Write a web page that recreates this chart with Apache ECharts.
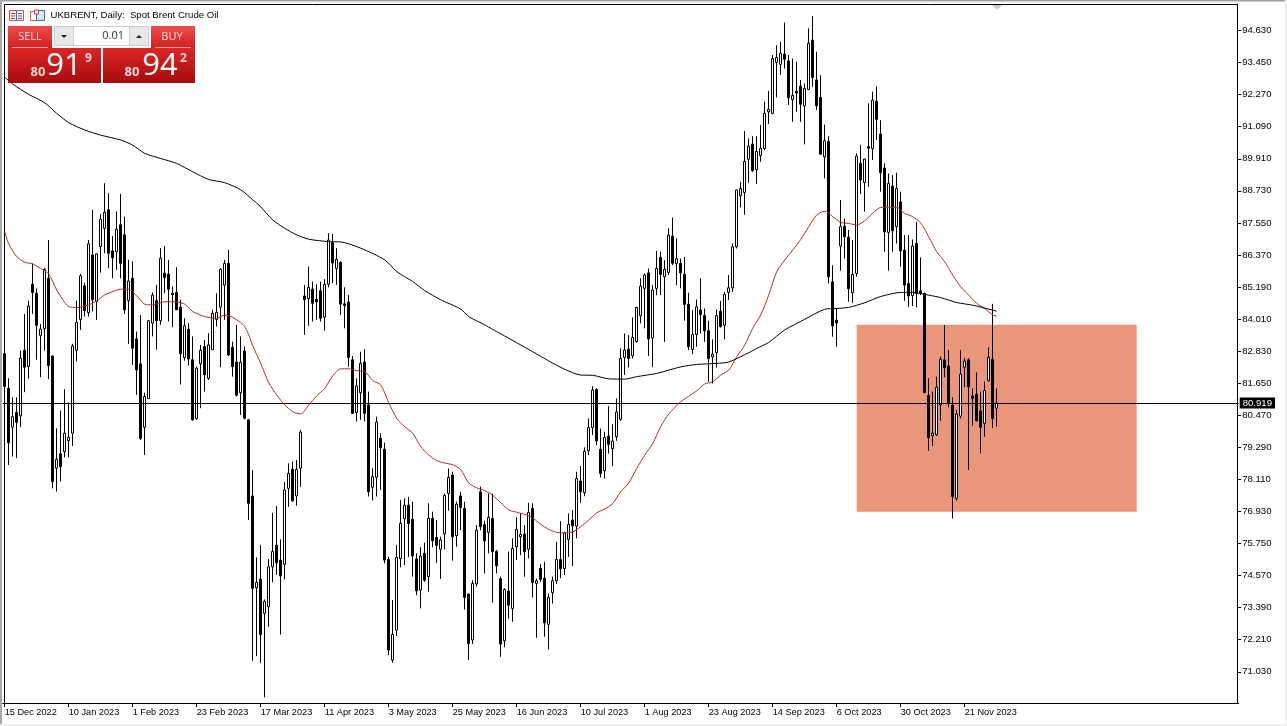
<!DOCTYPE html>
<html><head><meta charset="utf-8">
<style>html,body{margin:0;padding:0;background:#fff}#c{width:1287px;height:726px}</style>
<script src="https://cdn.jsdelivr.net/npm/echarts@6/dist/echarts.min.js"></script>
</head><body><div id="c"></div>
<script>
const xTickLabels=['15 Dec 2022','10 Jan 2023','1 Feb 2023','23 Feb 2023','17 Mar 2023','11 Apr 2023','3 May 2023','25 May 2023','16 Jun 2023','10 Jul 2023','1 Aug 2023','23 Aug 2023','14 Sep 2023','6 Oct 2023','30 Oct 2023','21 Nov 2023'];
const yTicks=[71.03,72.21,73.39,74.57,75.75,76.93,78.11,79.29,80.47,81.65,82.83,84.01,85.19,86.37,87.55,88.73,89.91,91.09,92.27,93.45,94.63];
const bidPrice=80.919;
const open=[82.73,81.46,80.03,80.57,80.45,82.86,82.26,85.29,84.96,83.40,
83.66,85.51,82.65,78.52,79.05,79.13,79.54,79.81,82.86,84.00,
85.23,84.25,86.37,84.65,86.68,87.35,88.03,86.52,86.49,87.48,
87.11,84.69,85.51,83.28,82.36,80.03,81.08,83.86,84.69,83.95,
85.70,85.67,84.96,84.99,84.45,82.59,83.64,82.51,80.35,82.37,
83.00,81.83,82.88,84.00,84.45,85.26,86.06,82.97,82.43,81.30,
82.83,80.30,77.50,74.12,74.44,73.18,73.42,74.89,75.69,75.14,
74.98,77.78,78.48,77.50,78.52,84.86,84.76,85.11,84.74,85.05,
84.08,85.29,86.83,85.87,86.10,84.57,84.64,82.51,80.57,81.30,
82.43,80.85,77.82,78.19,79.62,79.22,75.16,71.46,72.56,75.19,
76.66,77.16,76.64,75.18,74.04,75.39,74.53,76.67,75.97,75.54,
76.10,77.59,78.27,76.04,77.50,77.04,73.89,72.20,74.26,77.65,
76.45,76.16,76.67,75.46,74.45,72.17,74.00,73.36,75.63,76.00,
76.10,75.54,77.04,74.28,74.83,74.47,72.77,73.94,74.38,75.16,
74.83,75.90,76.61,76.39,78.05,77.62,79.16,80.02,81.42,79.22,
78.43,79.70,79.24,79.68,80.32,82.60,82.90,82.66,83.18,84.13,
85.14,85.71,83.32,85.14,86.28,85.57,85.73,87.06,86.06,86.06,
85.66,84.56,82.89,83.44,84.34,84.14,83.58,82.62,82.77,84.30,
83.78,84.99,85.16,86.67,88.55,88.67,89.89,90.45,89.51,90.03,
90.28,91.64,91.58,93.46,93.38,93.76,93.51,92.09,92.39,92.58,
91.86,92.46,94.28,92.81,92.17,89.98,90.55,85.38,83.97,86.70,
87.43,87.02,84.98,85.69,89.74,89.03,90.35,90.28,92.03,90.82,
89.57,87.20,88.91,87.41,88.32,86.55,85.32,84.87,86.79,85.05,
84.96,81.20,79.72,79.75,80.85,82.51,82.28,80.84,77.41,80.44,
82.24,82.51,81.18,81.24,80.63,80.17,81.74,82.53,80.73];
const close=[81.53,79.46,80.42,80.21,82.57,82.24,84.49,84.99,83.78,83.64,
85.84,82.30,78.03,78.85,78.58,79.81,79.66,83.02,83.89,85.60,
84.32,86.78,84.72,86.41,87.68,87.94,86.43,86.27,87.32,86.06,
84.35,85.41,82.94,82.14,79.62,81.16,83.95,84.89,83.95,86.25,
85.54,85.11,84.91,84.35,82.73,83.76,82.54,80.30,82.20,82.86,
81.96,83.06,84.22,84.26,85.84,86.06,82.69,82.26,81.21,82.42,
80.36,77.23,74.10,74.32,72.40,73.62,74.89,75.46,75.04,74.56,
77.72,78.33,77.32,78.48,79.85,84.72,85.18,84.59,84.65,84.04,
85.29,86.92,86.07,86.21,84.56,84.51,82.59,80.54,81.55,82.38,
80.54,77.66,78.21,80.22,79.28,75.14,71.83,72.40,75.24,76.49,
77.16,76.49,75.29,74.01,75.29,74.40,76.67,75.85,75.68,75.88,
77.52,78.18,76.00,77.20,77.08,73.77,72.07,74.28,76.24,76.37,
75.85,76.71,75.45,74.93,72.05,74.06,73.48,75.57,76.27,76.08,
75.45,76.89,74.31,74.38,74.43,72.83,73.77,74.38,75.16,74.82,
76.14,76.45,76.40,78.14,77.65,79.15,80.02,81.40,79.53,78.33,
79.65,79.40,79.52,80.59,82.56,82.87,82.56,83.33,84.44,85.22,
85.63,83.28,85.08,85.87,85.65,85.84,87.10,86.06,86.24,85.71,
84.55,82.99,83.44,84.46,84.17,83.58,82.56,82.72,84.14,83.73,
84.92,85.16,86.67,88.76,88.82,89.81,90.38,89.47,90.18,90.29,
91.58,91.73,93.60,93.64,93.79,93.57,92.16,92.24,92.33,91.92,
92.50,94.16,92.90,91.86,90.08,90.57,85.57,83.76,83.87,87.41,
87.04,85.13,85.65,90.01,89.13,89.90,90.30,92.07,91.36,89.40,
87.22,89.00,87.26,88.82,86.52,85.26,84.86,86.70,84.95,84.95,
81.30,79.65,79.81,81.50,82.53,82.22,80.93,77.48,80.51,81.98,
82.46,81.52,81.08,80.27,80.03,81.38,82.60,80.35,80.92];
const low=[81.53,78.64,78.95,78.89,80.03,81.32,81.82,84.20,82.51,81.87,
82.85,81.80,77.78,77.66,78.03,78.92,78.92,79.34,82.45,83.61,
84.10,84.10,84.29,83.98,85.72,86.43,85.88,85.51,85.82,85.51,
84.20,83.10,82.32,81.22,79.56,79.01,81.08,83.37,82.88,83.80,
84.96,83.92,83.71,84.35,81.60,82.48,82.30,80.27,80.30,80.73,
81.34,81.77,82.88,83.73,82.24,83.98,82.65,81.89,81.16,80.48,
80.32,76.61,71.43,71.61,71.36,70.09,72.69,74.32,74.59,72.40,
74.43,77.10,77.29,77.14,77.84,83.43,83.76,83.92,83.98,83.92,
83.59,85.18,85.33,85.27,84.16,83.67,82.26,80.54,80.24,80.30,
80.24,77.48,77.33,77.48,77.72,75.02,71.64,71.36,72.34,74.87,
74.96,75.26,74.53,73.85,73.36,74.34,73.98,75.61,75.04,74.45,
75.53,76.96,75.12,75.63,76.24,73.32,71.46,72.05,74.16,76.24,
74.65,75.39,73.57,74.65,71.58,71.93,72.99,72.87,75.14,75.32,
74.53,75.20,73.77,72.28,74.34,72.32,71.85,73.54,74.26,74.47,
74.59,75.26,74.92,75.94,77.25,77.49,79.00,79.74,79.37,78.18,
78.14,79.06,78.60,79.53,80.27,81.95,82.23,82.56,83.14,83.85,
83.67,82.65,82.25,84.89,84.89,83.17,85.63,86.00,85.26,85.14,
83.95,82.87,82.72,82.99,83.48,83.17,81.70,81.64,82.23,83.70,
83.26,84.71,85.01,86.61,88.12,87.85,89.03,89.43,88.98,89.80,
90.23,91.19,91.55,92.17,92.99,93.23,91.89,91.27,91.64,91.27,
90.44,92.46,92.56,91.70,90.05,89.19,85.32,83.36,82.99,85.79,
86.24,84.65,84.61,85.57,88.61,87.96,88.88,89.86,90.60,88.70,
86.49,85.79,86.49,86.79,85.94,84.68,84.46,84.49,84.44,84.89,
81.30,79.17,79.34,79.71,80.27,81.87,80.76,76.67,77.33,80.36,
81.50,78.46,80.09,80.24,79.07,79.68,81.71,80.00,80.05];
const high=[82.75,81.83,81.13,81.13,82.85,84.20,84.69,86.06,85.14,83.83,
85.88,86.92,82.67,79.99,80.64,81.43,80.94,83.10,84.69,85.67,
85.35,86.92,88.03,86.43,87.88,89.01,88.64,87.07,87.97,88.62,
87.78,86.19,86.13,83.55,84.16,81.30,83.98,84.99,85.27,86.62,
86.70,86.19,85.21,85.92,84.72,84.04,83.86,83.37,82.26,83.06,
83.24,83.49,84.35,84.96,85.88,86.19,86.56,83.18,83.80,83.37,
83.00,80.33,78.45,75.24,75.69,73.69,75.18,76.88,77.13,75.90,
78.02,78.70,78.76,78.82,79.93,85.27,85.94,85.39,85.29,85.39,
85.48,87.17,87.14,86.62,86.13,85.18,84.90,82.65,81.83,82.81,
82.90,81.34,78.52,80.42,79.81,79.46,75.26,73.67,75.69,77.35,
77.41,77.47,77.29,75.39,75.61,75.78,77.23,76.92,76.61,76.00,
77.59,78.51,78.39,77.29,77.65,77.29,73.91,74.40,76.43,77.84,
76.59,77.59,77.59,75.51,74.53,74.10,75.45,75.94,76.71,76.86,
76.43,77.25,77.23,74.46,74.99,75.08,73.91,74.53,75.81,76.57,
76.18,76.86,76.98,78.39,78.60,79.29,80.35,81.54,81.46,79.98,
79.86,80.81,80.14,81.09,82.93,83.48,83.42,84.07,84.46,85.51,
85.69,85.87,85.26,86.52,86.49,86.18,87.35,87.75,86.98,86.24,
86.30,84.98,84.34,84.73,85.51,84.40,83.95,83.26,84.36,84.68,
85.01,85.63,86.79,88.78,89.06,90.93,90.66,90.74,90.74,91.15,
92.01,92.41,93.73,94.09,94.22,94.92,93.73,93.60,93.48,92.81,
92.68,94.71,95.16,93.85,92.99,91.17,90.74,85.99,84.40,88.39,
87.71,87.29,86.92,90.11,90.41,89.92,91.95,92.38,92.58,91.33,
89.74,89.37,89.31,89.40,88.70,87.10,87.10,86.94,87.59,86.28,
84.98,81.83,81.34,81.89,82.63,83.79,82.87,81.13,80.67,82.87,
82.57,82.57,81.46,82.05,81.34,81.71,82.97,84.57,81.46];
const redMA=[[0,87.23],[1,86.78],[3,86.31],[5,86.10],[7,86.04],[9,85.87],[11,85.67],[13,85.08],[15,84.62],[16,84.47],[18,84.43],[21,84.53],[23,84.68],[25,84.90],[27,85.02],[29,85.11],[31,85.11],[33,84.86],[35,84.56],[37,84.53],[40,84.65],[43,84.64],[45,84.56],[47,84.29],[50,84.10],[53,84.04],[55,84.16],[57,84.07],[59,83.88],[60,83.73],[61,83.43],[62,83.03],[64,82.38],[66,81.67],[68,81.22],[70,80.85],[72,80.60],[74,80.52],[76,80.85],[78,81.18],[80,81.46],[82,81.92],[84,82.18],[86,82.18],[88,82.11],[90,82.08],[92,81.75],[94,81.59],[96,80.94],[98,80.36],[100,80.05],[102,79.81],[104,79.32],[106,79.01],[108,78.80],[110,78.71],[112,78.65],[114,78.47],[116,77.98],[118,77.80],[120,77.70],[122,77.53],[124,77.25],[126,76.99],[128,76.90],[130,76.82],[132,76.69],[134,76.46],[136,76.27],[138,76.16],[140,76.14],[142,76.18],[144,76.37],[146,76.61],[148,76.88],[150,77.02],[152,77.22],[154,77.65],[156,77.98],[158,78.51],[160,79.00],[162,79.43],[164,80.05],[166,80.51],[169,80.97],[171,81.17],[173,81.37],[175,81.62],[177,81.70],[179,81.95],[181,82.13],[183,82.62],[185,83.05],[187,83.67],[189,84.16],[191,84.89],[193,85.75],[195,86.18],[197,86.55],[199,86.94],[201,87.41],[203,87.84],[205,87.98],[207,87.78],[209,87.57],[211,87.53],[213,87.47],[215,87.63],[217,87.90],[219,88.12],[221,88.12],[223,88.12],[225,87.90],[227,87.78],[229,87.55],[231,87.04],[233,86.49],[235,86.12],[237,85.63],[239,85.20],[241,84.89],[243,84.59],[245,84.40],[247,84.16],[248,84.12]];
const blackMA=[[0,92.92],[2,92.66],[6,92.28],[10,91.97],[13,91.58],[16,91.24],[20,90.97],[24,90.78],[29,90.60],[32,90.41],[35,90.11],[39,89.92],[43,89.74],[47,89.43],[51,89.15],[55,89.03],[59,88.77],[62,88.40],[64,88.14],[67,87.66],[70,87.35],[73,87.11],[76,86.95],[81,86.86],[84,86.85],[89,86.62],[95,86.19],[98,85.76],[102,85.39],[105,85.06],[109,84.72],[114,84.38],[116,84.10],[120,83.80],[122,83.63],[124,83.47],[128,83.14],[132,82.81],[136,82.47],[140,82.16],[144,81.95],[147,81.94],[151,81.81],[155,81.80],[158,81.89],[163,82.01],[169,82.25],[173,82.34],[178,82.38],[181,82.43],[186,82.77],[188,82.93],[191,83.15],[195,83.61],[200,84.00],[205,84.37],[208,84.40],[211,84.44],[215,84.61],[219,84.84],[224,84.99],[227,84.99],[231,84.89],[234,84.80],[238,84.62],[242,84.52],[247,84.34],[248,84.30]];
const zoneCorners=[[213,83.80],[283,76.92]];

const SLOTS=309, TICK_EVERY=16;
const categories=Array.from({length:SLOTS},(_,i)=>(i%TICK_EVERY===0&&xTickLabels[i/TICK_EVERY])||'');
const ohlc=open.map((o,i)=>[o,close[i],low[i],high[i]]);
const UIF='"Open Sans","Noto Sans",sans-serif';
const AXF='"Liberation Sans",Arial,sans-serif';
const grad=(a,b)=>({type:'linear',x:0,y:0,x2:0,y2:1,colorStops:[{offset:0,color:a},{offset:1,color:b}]});
const Z=100;
const R=(x,y,w,h,fill,stroke,lw)=>({type:'rect',z:Z,shape:{x,y,width:w,height:h},style:{fill:fill||'none',stroke:stroke||'none',lineWidth:lw||1},silent:true});
const T=(x,y,text,fill,font,align)=>({type:'text',z:Z+1,style:{x,y,text,fill,font,textAlign:align||'left',textVerticalAlign:'middle'},silent:true});
const L=(x1,y1,x2,y2,c,lw)=>({type:'line',z:Z+1,shape:{x1,y1,x2,y2},style:{stroke:c,lineWidth:lw||1},silent:true});
const Tri=(pts,c)=>({type:'polygon',z:Z+1,shape:{points:pts},style:{fill:c},silent:true});

const graphics=[
 {type:'rect',z:-1,shape:{x:4.5,y:4.5,width:1233,height:699},style:{fill:'#fff',stroke:'#000',lineWidth:1},silent:true},
 R(0,0,1287,1.5,'#a0a0a0'),R(0,0,2,726,'#a8a8a8'),R(1285,0,2,726,'#f0f0f0'),R(0,724,1287,2,'#f0f0f0'),
 Tri([[992,5],[1002,5],[997,10]],'#c8c8c8'),
 R(9.5,10.5,14,10,'#fbeeee','#d9534f'),L(16.5,11,16.5,20,'#2f6fb0'),L(11,13.5,15,13.5,'#c0392b'),L(11,16,15,16,'#c0392b'),L(11,18.5,15,18.5,'#c0392b'),L(18,13.5,22,13.5,'#2f6fb0'),L(18,16,22,16,'#2f6fb0'),L(18,18.5,22,18.5,'#2f6fb0'),
 R(30.5,11.5,6,9,'#fff','#d9534f'),R(36.5,10.5,8,10,'#dbe9f6','#2f6fb0'),R(34.5,10,4,4,'#fff','#c0392b'),
 T(50.5,15.5,'UKBRENT, Daily:  Spot Brent Crude Oil','#000','9.6px '+AXF),
 R(8,26,44,22,grad('#ee4b4b','#d32020')),L(12,47.5,48,47.5,'#f3a0a0'),T(30,36.5,'SELL','#fbdcdc','11px '+UIF,'center'),
 R(54.5,26.5,19,19,'#e8e8e8','#cfcfcf'),R(73.5,26.5,56,19,'#fff','#cfcfcf'),R(129.5,26.5,19,19,'#e8e8e8','#cfcfcf'),
 Tri([[61,35],[67,35],[64,38]],'#222'),Tri([[136,38],[142,38],[139,35]],'#222'),
 T(124,36,'0.01','#333','11px '+UIF,'right'),
 R(151,26,44,22,grad('#ee4b4b','#d32020')),L(155,47.5,191,47.5,'#f3a0a0'),T(172,36.5,'BUY','#fbdcdc','11px '+UIF,'center'),
 R(8,48,93,35,grad('#dc2525','#a80c0c')),R(103,48,92,35,grad('#dc2525','#a80c0c')),
 T(38,72,'80','#f6d6d6','bold 13px '+UIF,'center'),T(64,66,'91','#fff','31px '+UIF,'center'),T(88.5,59,'9','#f6d6d6','bold 12px '+UIF,'center'),
 T(132,72,'80','#f6d6d6','bold 13px '+UIF,'center'),T(160,66,'94','#fff','31px '+UIF,'center'),T(183.5,59,'2','#f6d6d6','bold 12px '+UIF,'center')
];

const chart=echarts.init(document.getElementById('c'),null,{renderer:'canvas'});
chart.setOption({
 animation:false,backgroundColor:'#fff',
 graphic:{elements:graphics},
 grid:{left:2.7,top:4,width:1236,height:699,containLabel:false},
 xAxis:{type:'category',data:categories,boundaryGap:true,
  axisLine:{show:true,lineStyle:{color:'#000',width:1}},
  axisTick:{show:true,length:4,alignWithLabel:true,interval:(i)=>!!categories[i],lineStyle:{color:'#000'}},
  axisLabel:{show:true,interval:(i)=>!!categories[i],align:'left',margin:5,color:'#000',fontFamily:AXF,fontSize:9.2,hideOverlap:false},
  splitLine:{show:false}},
 yAxis:{type:'value',position:'right',offset:-1.5,min:69.88,max:95.606,scale:true,
  axisLine:{show:true,onZero:false,lineStyle:{color:'#000',width:1}},
  axisTick:{show:true,length:4,lineStyle:{color:'#000'},customValues:yTicks},
  axisLabel:{show:true,margin:5,color:'#000',fontFamily:AXF,fontSize:9.6,padding:[2,0,0,0],customValues:yTicks,formatter:(v)=>v.toFixed(3)},
  splitLine:{show:false}},
 series:[
  {type:'candlestick',data:ohlc,barWidth:3,z:3,silent:true,
   itemStyle:{color:'#fff',color0:'#000',borderColor:'#000',borderColor0:'#000',borderWidth:1},
   markArea:{silent:true,z:1,itemStyle:{color:'#e9967a',opacity:1},data:[[{coord:zoneCorners[0]},{coord:zoneCorners[1]}]]},
   markLine:{silent:true,symbol:'none',z:4,animation:false,lineStyle:{color:'#000',width:1,type:'solid'},
    label:{show:true,position:'end',formatter:()=>bidPrice.toFixed(3),color:'#fff',backgroundColor:'#000',padding:[1,3,0,3],fontFamily:AXF,fontSize:9.6,distance:1},
    data:[{yAxis:bidPrice}]}},
  {type:'line',data:redMA,showSymbol:false,silent:true,smooth:0.25,z:5,lineStyle:{color:'#b02a2a',width:1}},
  {type:'line',data:blackMA,showSymbol:false,silent:true,smooth:0.25,z:5,lineStyle:{color:'#000',width:1}}
 ]
});
</script></body></html>
